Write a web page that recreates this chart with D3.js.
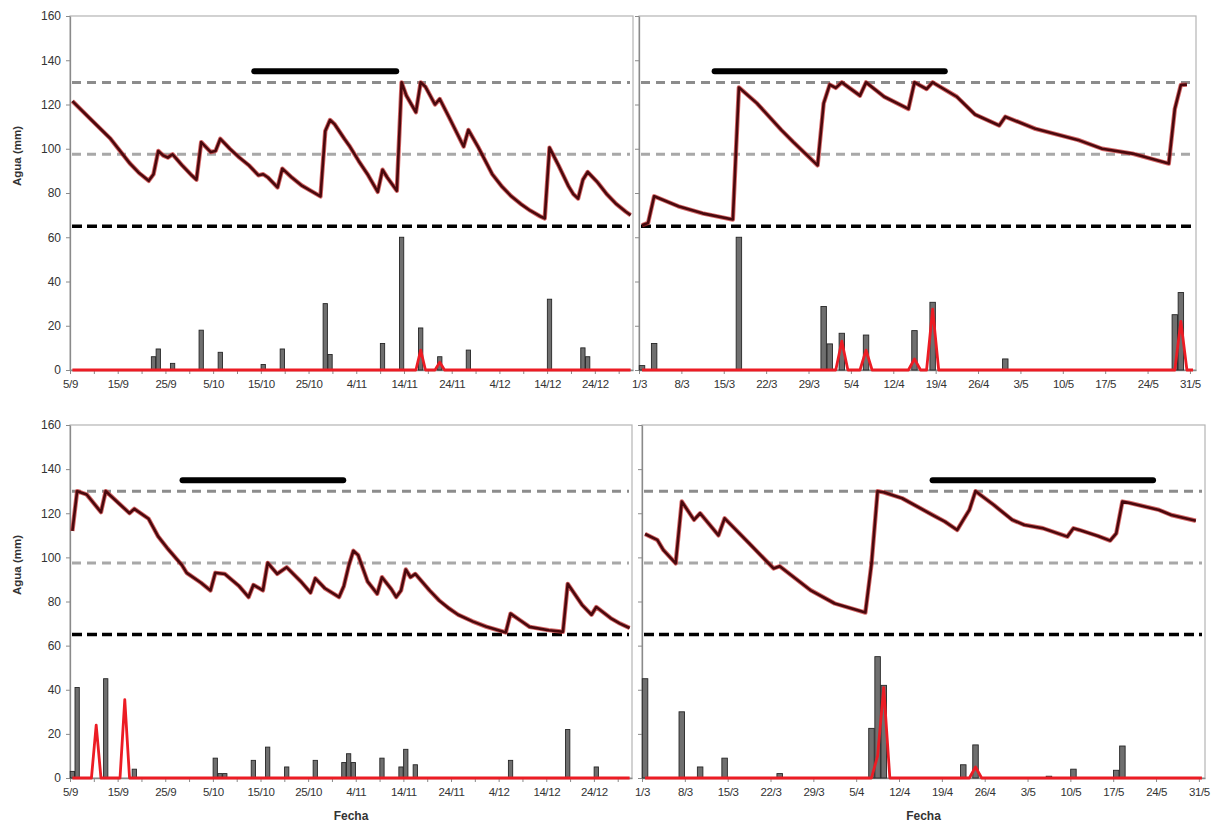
<!DOCTYPE html>
<html>
<head>
<meta charset="utf-8">
<script src="https://cdn.jsdelivr.net/npm/d3@7"></script>
<style>
  body { margin: 0; background: #fff; }
  svg text { font-family: "Liberation Sans", Arial, sans-serif; fill: #333; }
</style>
</head>
<body>
<div id="chart"></div>
<script>
// ---- ejes ----
const yTicks = [0, 20, 40, 60, 80, 100, 120, 140, 160];
const ticksLeft = ["5/9", "15/9", "25/9", "5/10", "15/10", "25/10", "4/11", "14/11", "24/11", "4/12", "14/12", "24/12"];
const ticksRight = ["1/3", "8/3", "15/3", "22/3", "29/3", "5/4", "12/4", "19/4", "26/4", "3/5", "10/5", "17/5", "24/5", "31/5"];

// niveles de referencia (mm)
const levelCC = 130;    // gris oscuro
const levelUmbral = 97.5; // gris claro
const levelPMP = 65;    // negro

// ---- panel superior izquierdo (sep-dic) ----
const tlLineDates = ["5/9","9/9","13/9","17/9","19/9","21/9","22/9","23/9","24/9","25/9","26/9","28/9","30/9",
  "1/10","2/10","4/10","5/10","6/10","8/10","10/10","12/10","14/10","15/10","16/10","18/10","19/10","21/10","23/10",
  "25/10","27/10","28/10","29/10","30/10","1/11","2/11","4/11","6/11","8/11","9/11","10/11","12/11","13/11","14/11",
  "16/11","17/11","18/11","20/11","21/11","23/11","26/11","27/11","29/11","2/12","4/12","6/12","8/12","10/12","12/12",
  "13/12","14/12","16/12","18/12","19/12","20/12","21/12","22/12","24/12","26/12","28/12","30/12","31/12"];
const tlLineValues = [121.5,113,104.5,93.5,89,85.5,88.5,99,97,96,97.5,92.5,88,
  86,103,98.5,99,104.5,100,96,92.5,88,88.5,87,82.5,91,87,83.5,
  81,78.5,108,113,111,104.5,101.5,94.5,88,80.5,90.5,87,81,130,124,
  116.5,130,128,120,122.5,114,101,108.5,101,88.5,83,78.5,75,72,69.5,
  68.5,100.5,92,83,79.5,77.5,86,89.5,85,79.5,75,71.5,70];
const tlRainDates = ["22/9","23/9","26/9","2/10","6/10","15/10","19/10","28/10","29/10","9/11","13/11","17/11","21/11","27/11","14/12","21/12","22/12"];
const tlRainValues = [6,9.5,3,18,8,2.5,9.5,30,7,12,60,19,6,9,32,10,6];
const tlDrainDates = ["17/11","21/11"];
const tlDrainValues = [9,3.5];
const tlPeriod = ["13/10","13/11"];

// ---- panel superior derecho (mar-may) ----
const trLineDates = ["1/3","2/3","3/3","7/3","11/3","16/3","17/3","20/3","24/3","26/3","30/3","31/3",
  "1/4","2/4","3/4","6/4","7/4","10/4","14/4","15/4","17/4","18/4","22/4","25/4","29/4","30/4",
  "5/5","12/5","16/5","21/5","27/5","28/5","29/5","30/5"];
const trLineValues = [65.4,66.5,78.5,74,70.8,68,127.7,120.5,108.5,103,92.5,120.5,
  129,127.5,130,124,130,123.5,118,130,127,130,123.5,115.5,110.5,114.5,
  109,104,100,97.8,93.3,118,128.8,129];
const trRainDates = ["1/3","3/3","17/3","31/3","1/4","3/4","7/4","15/4","18/4","30/4","28/5","29/5"];
const trRainValues = [2,12,60,28.7,11.8,16.6,15.8,17.8,30.6,5,25,35];
const trDrainDates = ["3/4","7/4","15/4","18/4","29/5"];
const trDrainValues = [13,9,5,27.5,22];
const trPeriod = ["13/3","21/4"];

// ---- panel inferior izquierdo (sep-dic) ----
const blLineDates = ["5/9","6/9","8/9","11/9","12/9","15/9","17/9","18/9","21/9","23/9","25/9","28/9","29/9",
  "2/10","4/10","5/10","7/10","10/10","12/10","13/10","15/10","16/10","18/10","20/10","23/10","25/10","26/10",
  "28/10","31/10","1/11","2/11","3/11","4/11","6/11","8/11","9/11","11/11","12/11","13/11","14/11","15/11",
  "16/11","19/11","21/11","23/11","25/11","28/11","1/12","5/12","6/12","8/12","10/12","14/12","17/12","18/12",
  "21/12","23/12","24/12","27/12","29/12","31/12"];
const blLineValues = [112,130,128.5,120.5,130,124,120,122,117.5,109.5,104,96.5,93,
  88.5,85,93,92.5,87,82,87.5,85,97.5,92.5,95.5,89,84,90.5,
  86,82,87,96,103,101,89,83.5,91,85.5,82,85,94.5,91,
  92.5,85,80.5,77,74,71,68.5,66,74.5,71.5,68.5,67,66.3,88,
  78.5,74,77.5,72.5,70,68];
const blRainDates = ["5/9","6/9","12/9","18/9","5/10","6/10","7/10","13/10","16/10","20/10","26/10","1/11","2/11","3/11","9/11","13/11","14/11","16/11","6/12","18/12","24/12"];
const blRainValues = [3,41,45,4,9,2,2,8,14,5,8,7,11,7,9,5,13,6,8,22,5];
const blDrainDates = ["10/9","16/9"];
const blDrainValues = [24,35.5];
const blPeriod = ["28/9","2/11"];

// ---- panel inferior derecho (mar-may) ----
const brLineDates = ["1/3","3/3","4/3","6/3","7/3","9/3","10/3","13/3","14/3","18/3","22/3","23/3","28/3",
  "1/4","6/4","7/4","8/4","9/4","12/4","17/4","19/4","21/4","22/4","23/4","24/4","27/4","30/4",
  "2/5","5/5","9/5","10/5","11/5","14/5","16/5","17/5","18/5","19/5","24/5","26/5","30/5"];
const brLineValues = [110.6,107.9,103.3,97.3,125.3,117,120,110,117.7,106.4,95,96,85.2,
  79.1,75,97,130,129.5,126.8,119.2,116.2,112.4,117,121.5,130,123.7,117,
  114.7,113.2,109.4,113.2,112.4,109.7,107.6,110.9,125.3,124.8,121.5,119.2,116.6];
const brRainDates = ["1/3","7/3","10/3","14/3","23/3","7/4","8/4","9/4","22/4","24/4","6/5","10/5","17/5","18/5"];
const brRainValues = [45,30,5,9,2,22.5,55,42,6,15,0.8,4,3.5,14.5];
const brDrainDates = ["8/4","9/4","24/4"];
const brDrainValues = [10,41,5];
const brPeriod = ["17/4","24/5"];

const width = 1218, height = 825;
const parse = d3.utcParse("%d/%m/%Y");
const toDates = (arr, year) => arr.map(s => parse(s + "/" + year));

const svg = d3.select("#chart").append("svg")
  .attr("width", width)
  .attr("height", height);

const panels = [
  { x0: 70, x1: 633, top: 16, bottom: 370, year: 2008, start: "5/9/2008", end: "1/1/2009", ticks: ticksLeft, minor: true, yLabels: true,
    line: [tlLineDates, tlLineValues], rain: [tlRainDates, tlRainValues], drain: [tlDrainDates, tlDrainValues], period: tlPeriod },
  { x0: 639, x1: 1196, top: 16, bottom: 370, year: 2009, start: "1/3/2009", end: "1/6/2009", ticks: ticksRight, minor: false, yLabels: false,
    line: [trLineDates, trLineValues], rain: [trRainDates, trRainValues], drain: [trDrainDates, trDrainValues], period: trPeriod },
  { x0: 70, x1: 632, top: 425, bottom: 778, year: 2008, start: "5/9/2008", end: "1/1/2009", ticks: ticksLeft, minor: true, yLabels: true,
    line: [blLineDates, blLineValues], rain: [blRainDates, blRainValues], drain: [blDrainDates, blDrainValues], period: blPeriod, fecha: true },
  { x0: 642, x1: 1205, top: 425, bottom: 778, year: 2009, start: "1/3/2009", end: "1/6/2009", ticks: ticksRight, minor: false, yLabels: false,
    line: [brLineDates, brLineValues], rain: [brRainDates, brRainValues], drain: [brDrainDates, brDrainValues], period: brPeriod, fecha: true }
];

panels.forEach(drawPanel);

function drawPanel(p) {
  const start = parse(p.start), end = parse(p.end);
  const x = d3.scaleUtc().domain([start, end]).range([p.x0, p.x1]);
  const y = d3.scaleLinear().domain([0, 160]).range([p.bottom, p.top]);
  // centro del dia
  const cx = d => x(d3.utcHour.offset(d, 12));
  const dayW = x(d3.utcDay.offset(start, 1)) - x(start);

  const g = svg.append("g");

  // marco
  g.append("rect")
    .attr("x", p.x0).attr("y", p.top)
    .attr("width", p.x1 - p.x0).attr("height", p.bottom - p.top)
    .attr("fill", "none").attr("stroke", "#b4b4b4").attr("stroke-width", 1.2);

  // eje y
  const yAxis = g.append("g")
    .attr("transform", `translate(${p.x0},0)`)
    .call(d3.axisLeft(y).tickValues(yTicks).tickSize(4).tickSizeOuter(0)
      .tickFormat(p.yLabels ? d => d : ""));
  yAxis.select(".domain").attr("stroke", "#8a8a8a").attr("stroke-width", 1.3);
  yAxis.selectAll(".tick line").attr("stroke", "#8a8a8a");
  yAxis.selectAll(".tick text").attr("font-size", 12).attr("x", -9).attr("fill", "#333");

  // eje x
  const tickDates = toDates(p.ticks, p.year);
  const xAxis = g.append("g")
    .attr("transform", `translate(0,${p.bottom})`)
    .call(d3.axisBottom(x).tickValues(tickDates).tickSize(4).tickSizeOuter(0)
      .tickFormat((d, i) => p.ticks[i]));
  xAxis.select(".domain").attr("stroke", "#8a8a8a").attr("stroke-width", 1.3);
  xAxis.selectAll(".tick line").attr("stroke", "#8a8a8a");
  xAxis.selectAll(".tick text").attr("font-size", 11.5).attr("y", 10).attr("letter-spacing", -0.4).attr("fill", "#333");
  if (p.minor) {
    const minorDates = tickDates.map(d => d3.utcDay.offset(d, 5));
    g.append("g")
      .attr("transform", `translate(0,${p.bottom})`)
      .call(d3.axisBottom(x).tickValues(minorDates.filter(d => d < end)).tickSize(4).tickSizeOuter(0).tickFormat(""))
      .call(a => a.select(".domain").remove())
      .selectAll(".tick line").attr("stroke", "#8a8a8a");
  }

  // niveles de referencia
  const levels = [
    { v: levelCC, color: "#8c8c8c", w: 3, dash: "9,6" },
    { v: levelUmbral, color: "#a8a8a8", w: 3, dash: "9,6" },
    { v: levelPMP, color: "#000", w: 3.5, dash: "10,5" }
  ];
  g.selectAll(".level").data(levels).enter().append("line")
    .attr("class", "level")
    .attr("x1", p.x0 + 2).attr("x2", p.x1 - 3)
    .attr("y1", d => y(d.v)).attr("y2", d => y(d.v))
    .attr("stroke", d => d.color).attr("stroke-width", d => d.w)
    .attr("stroke-dasharray", d => d.dash);

  // barras de precipitacion
  const rain = toDates(p.rain[0], p.year).map((d, i) => ({ date: d, v: p.rain[1][i] }));
  const bw = dayW * 0.9;
  g.selectAll(".rain").data(rain).enter().append("rect")
    .attr("class", "rain")
    .attr("x", d => cx(d.date) - bw / 2)
    .attr("width", bw)
    .attr("y", d => y(d.v))
    .attr("height", d => y(0) - y(d.v))
    .attr("fill", "#6f6f6f")
    .attr("stroke", "#262626")
    .attr("stroke-width", 0.9);

  // drenaje (serie diaria, cero donde no hay pico)
  const drainMap = new Map(toDates(p.drain[0], p.year).map((d, i) => [+d, p.drain[1][i]]));
  const days = d3.utcDay.range(start, end);
  const drain = days.map(d => ({ date: d, v: drainMap.get(+d) || 0 }));
  g.append("path")
    .datum(drain)
    .attr("fill", "none")
    .attr("stroke", "#ec1c24")
    .attr("stroke-width", 2.8)
    .attr("stroke-linejoin", "round")
    .attr("d", d3.line().x(d => cx(d.date)).y(d => y(d.v)));

  // agua en el suelo
  const water = toDates(p.line[0], p.year).map((d, i) => ({ date: d, v: p.line[1][i] }));
  const lineGen = d3.line().x(d => cx(d.date)).y(d => y(d.v));
  g.append("path")
    .datum(water)
    .attr("fill", "none")
    .attr("stroke", "#c42a2a")
    .attr("stroke-opacity", 0.7)
    .attr("stroke-width", 4.4)
    .attr("stroke-linejoin", "round")
    .attr("d", lineGen);
  g.append("path")
    .datum(water)
    .attr("fill", "none")
    .attr("stroke", "#4a090d")
    .attr("stroke-width", 2.6)
    .attr("stroke-linejoin", "round")
    .attr("d", lineGen);

  // periodo (barra negra)
  const per = toDates(p.period, p.year);
  g.append("line")
    .attr("x1", x(per[0]) + 3).attr("x2", x(per[1]) - 3)
    .attr("y1", y(135)).attr("y2", y(135))
    .attr("stroke", "#000")
    .attr("stroke-width", 6)
    .attr("stroke-linecap", "round");

  // titulos
  if (p.yLabels) {
    g.append("text")
      .attr("transform", `translate(21,${p.top + 140}) rotate(-90)`)
      .attr("text-anchor", "middle")
      .attr("font-size", 11.5)
      .attr("font-weight", "bold")
      .text("Agua (mm)");
  }
  if (p.fecha) {
    g.append("text")
      .attr("x", (p.x0 + p.x1) / 2)
      .attr("y", 820)
      .attr("text-anchor", "middle")
      .attr("font-size", 12)
      .attr("font-weight", "bold")
      .text("Fecha");
  }
}
</script>
</body>
</html>
